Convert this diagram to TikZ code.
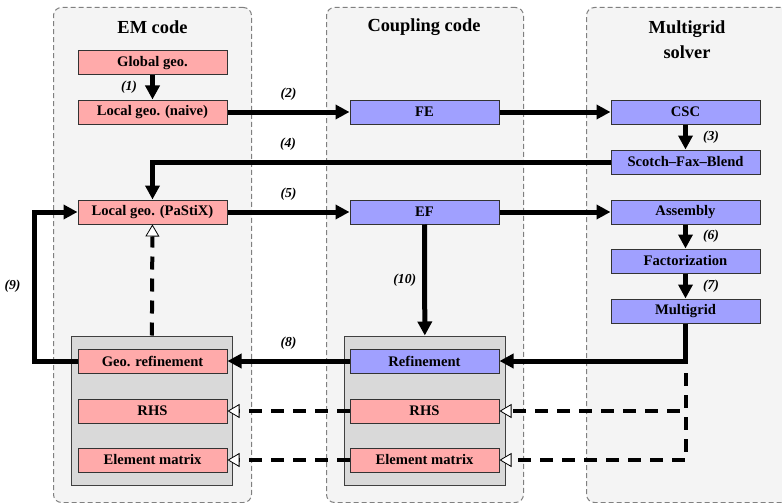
\documentclass[tikz,border=0pt]{standalone}
\usepackage{fontspec}
\setmainfont{Liberation Serif}
\usetikzlibrary{arrows.meta}

\definecolor{emred}{RGB}{255,170,170}
\definecolor{mgblue}{RGB}{160,160,255}
\definecolor{colbg}{RGB}{244,244,244}
\definecolor{grpbg}{RGB}{217,217,217}

\begin{document}
\begin{tikzpicture}[
  x=1pt, y=-1pt,
  >={Triangle[length=14pt, width=14pt]},
  every node/.style={font=\fontsize{14.6}{17}\selectfont\bfseries},
  column/.style={rectangle, draw=gray, line width=1pt, dash pattern=on 5pt off 3pt,
                 rounded corners=8pt, fill=colbg, minimum height=495pt, anchor=north west},
  title/.style={font=\fontsize{18.4}{25}\selectfont\bfseries, align=center},
  group/.style={rectangle, draw=black!75, line width=1pt, fill=grpbg,
                minimum width=161pt, minimum height=149pt},
  emstep/.style={rectangle, draw=black!80, line width=1pt, fill=emred,
                 minimum width=149pt, minimum height=24pt, inner sep=0pt},
  mgstep/.style={emstep, fill=mgblue},
  lbl/.style={font=\fontsize{13.7}{16}\selectfont\bfseries\itshape, inner sep=0pt},
  flow/.style={->, line width=5pt},
  ref/.style={-{Triangle[fill=white, line width=0.8pt, length=12pt, width=14pt]},
              line width=4pt, dash pattern=on 13pt off 9pt}
]
\useasboundingbox (0,0) rectangle (782,503);

\def\colEM{152.5}
\def\colCP{424.5}
\def\colMG{685.5}

% columns
\node[column, minimum width=198pt] (emcol)  at (53,7)  {};
\node[column, minimum width=197pt] (cplcol) at (326,7) {};
\node[column, minimum width=210pt] (mgcol)  at (586,7) {};

\node[title] (emtitle)  at (\colEM, 27)   {EM code};
\node[title] (cpltitle) at (424, 27)      {Coupling code};
\node[title] (mgtitle)  at (687, 39.5)    {Multigrid\\solver};

% refinement groups
\node[group] (emgrp) at (151.5, 410.5) {};
\node[group] (cpgrp) at (425, 410.5)   {};

% EM code
\node[emstep] (globgeo) at (\colEM, 63)  {Global geo.};
\node[emstep] (naive)   at (\colEM, 112) {Local geo. (naive)};
\node[emstep] (pastix)  at (\colEM, 212) {Local geo. (PaStiX)};
\node[emstep] (georef)  at (\colEM, 361) {Geo. refinement};
\node[emstep] (emrhs)   at (\colEM, 411) {RHS};
\node[emstep] (emelem)  at (\colEM, 460) {Element matrix};

% coupling code
\node[mgstep] (fe)     at (\colCP, 112) {FE};
\node[mgstep] (ef)     at (\colCP, 212) {EF};
\node[mgstep] (cpref)  at (\colCP, 361) {Refinement};
\node[emstep] (cprhs)  at (\colCP, 411) {RHS};
\node[emstep] (cpelem) at (\colCP, 460) {Element matrix};

% multigrid solver
\node[mgstep] (csc)    at (\colMG, 112) {CSC};
\node[mgstep] (scotch) at (\colMG, 162) {Scotch--Fax--Blend};
\node[mgstep] (assem)  at (\colMG, 212) {Assembly};
\node[mgstep] (fact)   at (\colMG, 261) {Factorization};
\node[mgstep] (mgrid)  at (\colMG, 311) {Multigrid};

\coordinate (mgdash) at (\colMG, 373);

\draw[flow] (globgeo) -- (naive) node[lbl, midway, left=13pt]{(1)};
\draw[flow] (naive) -- (fe) node[lbl, midway, above=9pt]{(2)};
\draw[flow] (fe) -- (csc);
\draw[flow] (csc) -- (scotch) node[lbl, midway, right=15pt]{(3)};
\draw[flow] (scotch.west) -| node[lbl, pos=0.352, above=9pt]{(4)} (pastix.north);
\draw[flow] (pastix) -- (ef) node[lbl, midway, above=9pt]{(5)};
\draw[flow] (ef) -- (assem);
\draw[flow] (assem) -- (fact) node[lbl, midway, right=15pt]{(6)};
\draw[flow] (fact) -- (mgrid) node[lbl, midway, right=15pt]{(7)};
\draw[flow] (mgrid.south) |- (cpref.east);
\draw[flow] (cpref) -- (georef) node[lbl, midway, above=9pt]{(8)};
\draw[flow] (georef.west) -- ++(-43.5,0) |- node[lbl, pos=0.25, left=11pt]{(9)} (pastix.west);
\draw[flow] (ef) -- (cpgrp) node[lbl, midway, left=6pt]{(10)};

\draw[ref] (emgrp) -- (pastix);
\draw[ref] (mgdash) |- (cprhs.east);
\draw[ref] (mgdash) |- (cpelem.east);
\draw[ref] (cprhs) -- (emrhs);
\draw[ref] (cpelem) -- (emelem);

\end{tikzpicture}
\end{document}
